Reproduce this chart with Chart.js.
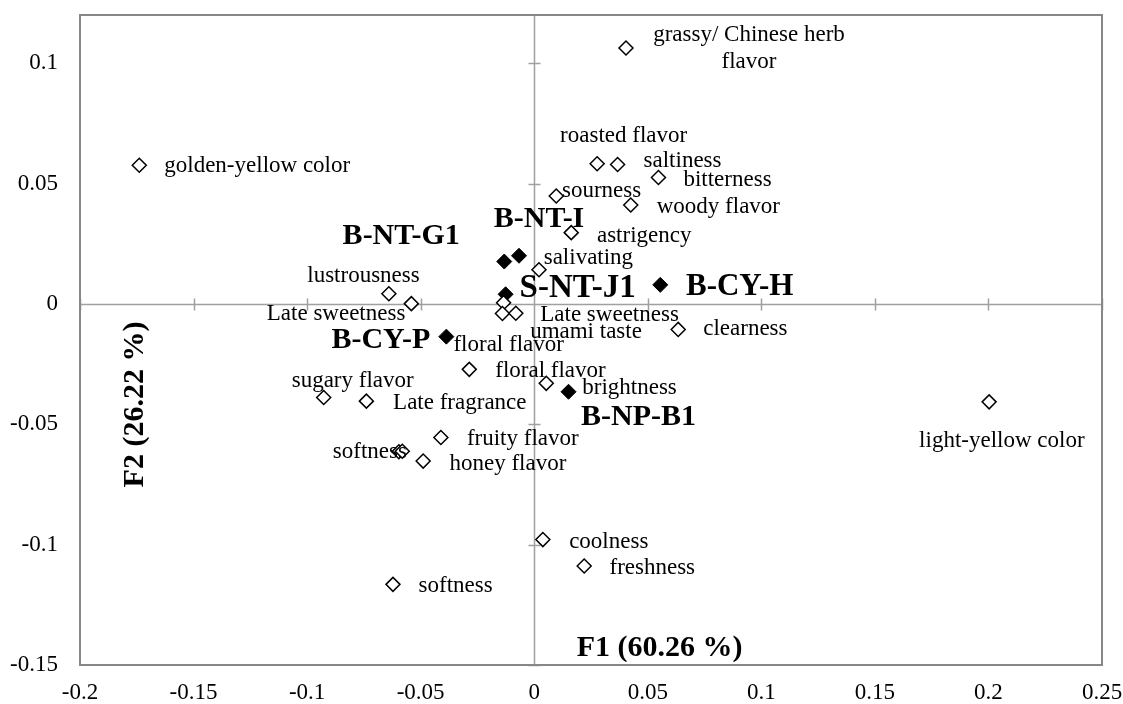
<!DOCTYPE html>
<html>
<head>
<meta charset="utf-8">
<script src="https://cdn.jsdelivr.net/npm/chart.js@4/dist/chart.umd.min.js"></script>
<style>
  html, body { margin: 0; padding: 0; background: #fff; }
  canvas { display: block; }
</style>
</head>
<body>
<canvas id="c" width="1123" height="704"></canvas>
<script>
// ---------- DATA ----------
const attrNames = [
  'golden-yellow color', 'grassy/ Chinese herb\nflavor', 'roasted flavor', 'saltiness', 'bitterness',
  'sourness', 'woody flavor', 'astrigency', 'salivating', 'lustrousness',
  'Late sweetness', 'Late sweetness', 'floral flavor', 'umami taste', 'floral flavor',
  'brightness', 'clearness', 'sugary flavor', 'Late fragrance', 'fruity flavor',
  'softness', '', 'honey flavor', 'coolness', 'freshness',
  'softness', 'light-yellow color'
];
const attrF1 = [
  -0.1739, 0.0404, 0.0277, 0.0367, 0.0547,
  0.0097, 0.0425, 0.0163, 0.0021, -0.0640,
  -0.0541, -0.0135, -0.0140, -0.0081, -0.0286,
  0.0053, 0.0634, -0.0927, -0.0739, -0.0411,
  -0.0596, -0.0581, -0.0489, 0.0038, 0.0220,
  -0.0622, 0.2003
];
const attrF2 = [
  0.0576, 0.1063, 0.0582, 0.0579, 0.0525,
  0.0448, 0.0411, 0.0296, 0.0142, 0.0042,
  0.0001, 0.0005, -0.0040, -0.0039, -0.0272,
  -0.0330, -0.0106, -0.0389, -0.0404, -0.0555,
  -0.0614, -0.0612, -0.0653, -0.0979, -0.1089,
  -0.1165, -0.0407
];
const sampleNames = ['B-NT-G1', 'B-NT-I', 'S-NT-J1', 'B-CY-H', 'B-CY-P', 'B-NP-B1'];
const sampleF1 = [-0.0132, -0.0067, -0.0126, 0.0555, -0.0387, 0.0151];
const sampleF2 = [0.0176, 0.0200, 0.0040, 0.0079, -0.0136, -0.0365];
const xTickValues = [-0.2, -0.15, -0.1, -0.05, 0, 0.05, 0.1, 0.15, 0.2, 0.25];
const yTickValues = [-0.15, -0.1, -0.05, 0, 0.05, 0.1];
const xTitle = 'F1 (60.26 %)';
const yTitle = 'F2 (26.22 %)';

// ---------- LABEL LAYOUT (pixel offsets from each point) ----------
// [dx, dy, align]
const attrLabelLayout = [
  [25, 1, 'left'], [123, -13, 'center'], [26.5, -28, 'center'], [26, -3.3, 'left'], [25, 2, 'left'],
  [5.7, -5, 'left'], [26, 2, 'left'], [25.7, 3, 'left'], [4.7, -11.7, 'left'], [-25.4, -18, 'center'],
  [-6, 10.3, 'right'], [36.7, 12.3, 'left'], [-49, 31.3, 'left'], [14.3, 18.4, 'left'], [26, 1.4, 'left'],
  [36, 4.4, 'left'], [25, 0, 'left'], [29, -16.6, 'center'], [26.7, 2.3, 'left'], [26, 1.7, 'left'],
  [-66, 0.6, 'left'], [0, 0, 'left'], [26.3, 2.6, 'left'], [26.3, 2.7, 'left'], [25.3, 1.4, 'left'],
  [25.6, 1.3, 'left'], [12.7, 39.3, 'center']
];
const sampleLabelLayout = [
  [-103, -25, 'center', 30], [20, -36.7, 'center', 30], [14, -6, 'left', 33],
  [25.7, 2, 'left', 31], [-16, 3.3, 'right', 30], [70, 25.6, 'center', 30]
];

const SERIF = '"Liberation Serif", "Times New Roman", serif';

const attrData = attrF1.map((v, i) => ({ x: v, y: attrF2[i] }));
const sampleData = sampleF1.map((v, i) => ({ x: v, y: sampleF2[i] }));

const axesPlugin = {
  id: 'axesPlugin',
  beforeDatasetsDraw(chart) {
    const { ctx, chartArea: a, scales: { x, y } } = chart;
    ctx.save();
    const x0 = Math.round(x.getPixelForValue(0)) + 0.5;
    const y0 = Math.round(y.getPixelForValue(0)) + 0.5;
    ctx.strokeStyle = '#a0a0a0';
    ctx.lineWidth = 1.5;
    ctx.beginPath();
    ctx.moveTo(x0, a.top); ctx.lineTo(x0, a.bottom);
    ctx.moveTo(a.left, y0); ctx.lineTo(a.right, y0);
    // cross tick marks on the zero axes
    xTickValues.forEach(v => {
      const px = Math.round(x.getPixelForValue(v)) + 0.5;
      ctx.moveTo(px, y0 - 6); ctx.lineTo(px, y0 + 6);
    });
    yTickValues.forEach(v => {
      const py = Math.round(y.getPixelForValue(v)) + 0.5;
      ctx.moveTo(x0 - 6, py); ctx.lineTo(x0 + 6, py);
    });
    ctx.stroke();
    // outer box
    ctx.strokeStyle = '#888888';
    ctx.lineWidth = 2;
    ctx.strokeRect(a.left, a.top, a.right - a.left, a.bottom - a.top);
    // tick labels
    ctx.fillStyle = '#000';
    ctx.font = '23px ' + SERIF;
    ctx.textBaseline = 'middle';
    ctx.textAlign = 'right';
    yTickValues.forEach(v => {
      ctx.fillText(String(v), a.left - 22, y.getPixelForValue(v));
    });
    ctx.textAlign = 'center';
    xTickValues.forEach(v => {
      ctx.fillText(String(v), x.getPixelForValue(v), a.bottom + 28);
    });
    ctx.restore();
  },
  afterDatasetsDraw(chart) {
    const { ctx } = chart;
    ctx.save();
    ctx.fillStyle = '#000';
    ctx.textBaseline = 'middle';
    const metaA = chart.getDatasetMeta(0);
    ctx.font = '23px ' + SERIF;
    metaA.data.forEach((el, i) => {
      const txt = attrNames[i];
      if (!txt) return;
      const [dx, dy, align] = attrLabelLayout[i];
      ctx.textAlign = align;
      txt.split('\n').forEach((line, k) => {
        ctx.fillText(line, el.x + dx, el.y + dy + k * 26.7);
      });
    });
    const metaS = chart.getDatasetMeta(1);
    metaS.data.forEach((el, i) => {
      const [dx, dy, align, size] = sampleLabelLayout[i];
      ctx.font = 'bold ' + size + 'px ' + SERIF;
      ctx.textAlign = align;
      ctx.fillText(sampleNames[i], el.x + dx, el.y + dy);
    });
    // axis titles
    ctx.font = 'bold 30px ' + SERIF;
    ctx.textAlign = 'left';
    ctx.fillText(xTitle, 576.7, 648.3);
    ctx.translate(135, 404.5);
    ctx.rotate(-Math.PI / 2);
    ctx.textAlign = 'center';
    ctx.fillText(yTitle, 0, 0);
    ctx.restore();
  }
};

new Chart(document.getElementById('c'), {
  type: 'scatter',
  data: {
    datasets: [
      {
        label: 'attributes',
        data: attrData,
        pointStyle: 'rectRot',
        pointRadius: 7,
        pointBackgroundColor: '#ffffff',
        pointBorderColor: '#000000',
        pointBorderWidth: 1.5,
        showLine: false
      },
      {
        label: 'samples',
        data: sampleData,
        pointStyle: 'rectRot',
        pointRadius: 7.5,
        pointBackgroundColor: '#000000',
        pointBorderColor: '#000000',
        pointBorderWidth: 1,
        showLine: false
      }
    ]
  },
  options: {
    responsive: false,
    animation: false,
    events: [],
    layout: { padding: { top: 15, right: 21, left: 0, bottom: 0 } },
    plugins: { legend: { display: false }, tooltip: { enabled: false } },
    scales: {
      x: {
        type: 'linear', min: -0.2, max: 0.25,
        grid: { display: false, drawTicks: false },
        border: { display: false },
        ticks: { display: false },
        afterBuildTicks: s => { s.ticks = xTickValues.map(v => ({ value: v })); },
        afterFit: s => { s.height = 39; }
      },
      y: {
        type: 'linear', min: -0.15, max: 0.12,
        grid: { display: false, drawTicks: false },
        border: { display: false },
        ticks: { display: false },
        afterBuildTicks: s => { s.ticks = yTickValues.map(v => ({ value: v })); },
        afterFit: s => { s.width = 80; }
      }
    }
  },
  plugins: [axesPlugin]
});
</script>
</body>
</html>
